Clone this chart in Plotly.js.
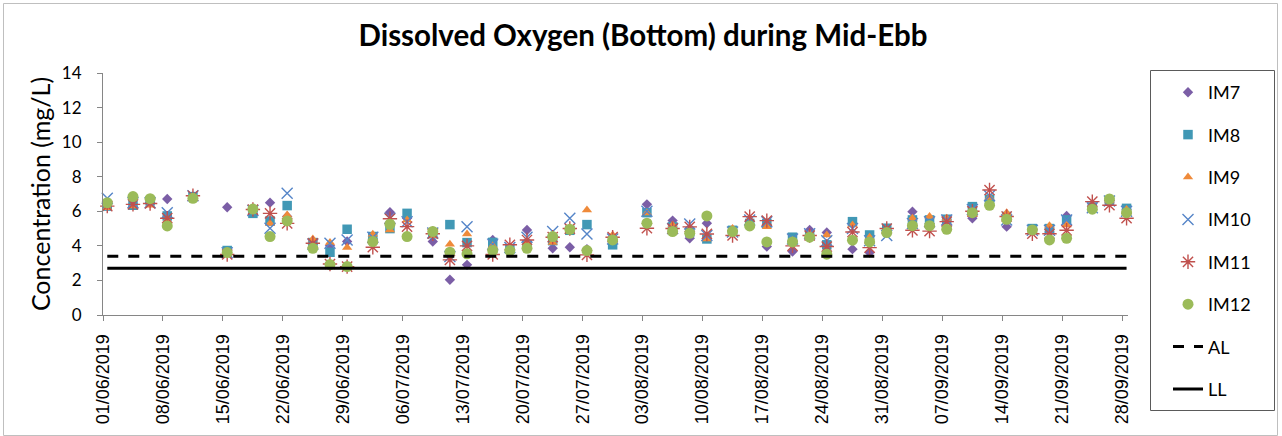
<!DOCTYPE html>
<html>
<head>
<meta charset="utf-8">
<script src="https://cdn.plot.ly/plotly-3.0.1.min.js"></script>
<style>html,body{margin:0;padding:0;background:#fff;}#chart{width:1282px;height:436px;}</style>
</head>
<body>
<div id="chart"></div>
<script>
// ---- data ----
var sampleDates = [
  '2019-06-01','2019-06-04','2019-06-06','2019-06-08','2019-06-11','2019-06-15','2019-06-18','2019-06-20','2019-06-22','2019-06-25',
  '2019-06-27','2019-06-29','2019-07-02','2019-07-04','2019-07-06','2019-07-09','2019-07-11','2019-07-13','2019-07-16','2019-07-18',
  '2019-07-20','2019-07-23','2019-07-25','2019-07-27','2019-07-30','2019-08-03','2019-08-06','2019-08-08','2019-08-10','2019-08-13',
  '2019-08-15','2019-08-17','2019-08-20','2019-08-22','2019-08-24','2019-08-27','2019-08-29','2019-08-31','2019-09-03','2019-09-05',
  '2019-09-07','2019-09-10','2019-09-12','2019-09-14','2019-09-17','2019-09-19','2019-09-21','2019-09-24','2019-09-26','2019-09-28'
];
var IM7  = [6.4,6.4,6.5,6.71,6.85,6.23,6.0,6.5,5.7,4.1, 4.0,4.25,4.4,5.94,5.6,4.25,2.04,2.9,4.34,3.7, 4.92,3.86,3.92,3.8,4.3,6.4,5.46,4.44,5.31,4.8, 5.2,3.96,3.67,4.92,4.77,3.81,3.61,4.9,5.98,5.3, 5.5,5.6,6.6,5.11,4.9,4.8,5.73,6.2,6.5,6.1];
var IM8  = [6.3,6.35,6.6,5.73,6.85,3.73,5.88,5.44,6.33,4.19, 3.63,4.96,4.54,5.0,5.88,4.7,5.23,4.19,4.2,3.8, 4.06,4.3,4.9,5.23,4.06,5.92,5.1,4.8,4.4,4.9, 5.3,5.3,4.5,4.6,4.06,5.4,4.63,5.02,5.5,5.5, 5.54,6.27,6.7,5.7,5.0,5.0,5.5,6.25,6.6,6.17];
var IM9  = [6.2,6.3,6.35,5.46,6.8,3.48,6.15,5.3,5.79,4.4, 4.2,3.9,4.67,4.92,5.5,4.6,4.1,4.69,4.0,3.85, 4.2,4.2,4.95,6.08,4.63,5.9,5.2,4.85,4.4,5.0, 5.3,5.1,4.3,4.7,4.63,5.2,4.5,4.9,5.6,5.7, 5.6,5.8,6.8,5.92,4.9,5.17,5.2,6.2,6.6,6.1];
var IM10 = [6.75,6.5,6.5,5.92,6.9,3.6,6.05,5.02,7.04,4.1, 4.15,4.34,4.5,5.6,5.4,4.75,3.38,5.11,4.1,3.9, 4.5,4.83,5.6,4.69,4.4,6.0,5.0,5.27,4.6,4.8, 5.5,5.4,4.4,4.7,4.3,5.0,4.3,4.6,5.3,5.4, 5.5,6.1,6.9,5.5,4.9,4.9,5.5,6.2,6.6,6.0];
var IM11 = [6.3,6.4,6.45,5.6,6.9,3.5,6.1,5.88,5.3,4.15, 2.95,2.8,3.92,5.57,5.11,4.7,3.19,4.0,3.5,4.06, 4.34,4.5,5.0,3.48,4.5,5.02,5.0,5.1,4.69,4.6, 5.69,5.46,4.0,4.6,3.96,4.8,3.9,5.0,4.9,4.85, 5.4,6.0,7.23,5.7,4.7,4.7,4.9,6.56,6.35,5.6];
var IM12 = [6.5,6.85,6.73,5.15,6.75,3.61,6.13,4.54,5.44,3.86, 2.92,2.8,4.25,5.25,4.54,4.83,3.63,3.54,3.73,3.73, 3.86,4.54,4.96,3.73,4.34,5.31,4.83,4.73,5.73,4.83, 5.15,4.23,4.23,4.5,3.52,4.33,4.23,4.77,5.17,5.17, 4.96,5.92,6.35,5.54,4.92,4.34,4.44,6.12,6.71,5.92];
var limitDates = ['2019-06-01','2019-09-28'];
var AL = [3.4, 3.4];
var LL = [2.7, 2.7];
var stationNames = ['IM7','IM8','IM9','IM10','IM11','IM12'];
var tickDates = ['2019-06-01','2019-06-08','2019-06-15','2019-06-22','2019-06-29','2019-07-06','2019-07-13','2019-07-20','2019-07-27',
  '2019-08-03','2019-08-10','2019-08-17','2019-08-24','2019-08-31','2019-09-07','2019-09-14','2019-09-21','2019-09-28'];
var tickLabels = ['01/06/2019','08/06/2019','15/06/2019','22/06/2019','29/06/2019','06/07/2019','13/07/2019','20/07/2019','27/07/2019',
  '03/08/2019','10/08/2019','17/08/2019','24/08/2019','31/08/2019','07/09/2019','14/09/2019','21/09/2019','28/09/2019'];

// ---- styling ----
var W = 1282, H = 436, ML = 103, MR = 154, MT = 73, MB = 121;
var PW = W - ML - MR, PH = H - MT - MB;
function px(x){ return (x - ML) / PW; }
function py(y){ return (H - MB - y) / PH; }

var styles = [
  {symbol:'diamond', color:'#7B5EA6', size:8},
  {symbol:'square', color:'#4198B5', size:9.5},
  {symbol:'triangle-up', color:'#EF8A3A', size:9},
  {symbol:'x-thin-open', color:'#5585C8', size:11, open:true},
  {symbol:'asterisk-open', color:'#C0504D', size:12, open:true},
  {symbol:'circle', color:'#9BBB59', size:11}
];
var seriesValues = [IM7, IM8, IM9, IM10, IM11, IM12];
var DAY = 86400000;

var traces = seriesValues.map(function(vals, i){
  var s = styles[i];
  return {
    type:'scatter', mode:'markers', name: stationNames[i], legendgroup:'g'+i,
    x: sampleDates, y: vals, xperiod: DAY, xperiodalignment:'middle',
    marker:{symbol:s.symbol, size:s.size, color:s.color,
      line: s.open ? {color:s.color, width:1.4} : {width:0}},
    cliponaxis:false
  };
});
traces.push({type:'scatter', mode:'lines', name:'AL', legendgroup:'gAL', x:limitDates, y:AL,
  xperiod:DAY, xperiodalignment:'middle', line:{color:'#000', width:3, dash:'11px,10px'}});
traces.push({type:'scatter', mode:'lines', name:'LL', legendgroup:'gLL', x:limitDates, y:LL,
  xperiod:DAY, xperiodalignment:'middle', line:{color:'#000', width:3}});

var layout = {
  width:W, height:H,
  margin:{l:ML, r:MR, t:MT, b:MB, pad:0},
  paper_bgcolor:'#fff', plot_bgcolor:'#fff',
  font:{family:'Lato, "Open Sans", sans-serif', color:'#000'},
  title:{text:'<b>Dissolved Oxygen (Bottom) during Mid-Ebb</b>', font:{family:'Lato', size:29.5, color:'#000'},
    x:643/W, xref:'container', xanchor:'center', y:1 - 36/H, yanchor:'middle'},
  showlegend:true,
  legend:{x:px(1168), xanchor:'left', y:py(74), yanchor:'top', bgcolor:'rgba(0,0,0,0)', borderwidth:0,
    font:{family:'Lato', size:18, color:'#000'}, tracegroupgap:16, traceorder:'grouped', maxheight:430},
  xaxis:{type:'date', range:['2019-06-01 00:00','2019-09-28 16:00'], tickvals:tickDates, ticktext:tickLabels,
    tickangle:-90, ticks:'outside', ticklen:5, tickcolor:'#868686', showline:true, linecolor:'#868686', linewidth:1,
    showgrid:false, zeroline:false, ticklabelstandoff:6, tickfont:{family:'Liberation Sans, Arial', size:18, color:'#000'}, fixedrange:true},
  yaxis:{range:[0,14], dtick:2, tick0:0, ticks:'outside', ticklen:5, tickcolor:'#868686', showline:true,
    linecolor:'#868686', linewidth:1, showgrid:false, zeroline:false, ticklabelstandoff:12,
    tickfont:{family:'Lato', size:17, color:'#000'},
    title:{text:'Concentration (mg/L)', font:{family:'Lato', size:25, color:'#000'}, standoff:4}, fixedrange:true},
  shapes:[
    {type:'rect', xref:'paper', yref:'paper', x0:px(3.5), x1:px(1277.5), y0:py(435.5), y1:py(3.5),
      line:{color:'#BFBFBF', width:1}, fillcolor:'rgba(0,0,0,0)', layer:'below'},
    {type:'rect', xref:'paper', yref:'paper', x0:px(1150.5), x1:px(1274.5), y0:py(410.5), y1:py(70.5),
      line:{color:'#5A5A5A', width:1}, fillcolor:'rgba(0,0,0,0)', layer:'below'}
  ]
};
Plotly.newPlot('chart', traces, layout, {displayModeBar:false, staticPlot:true});
</script>
</body>
</html>
